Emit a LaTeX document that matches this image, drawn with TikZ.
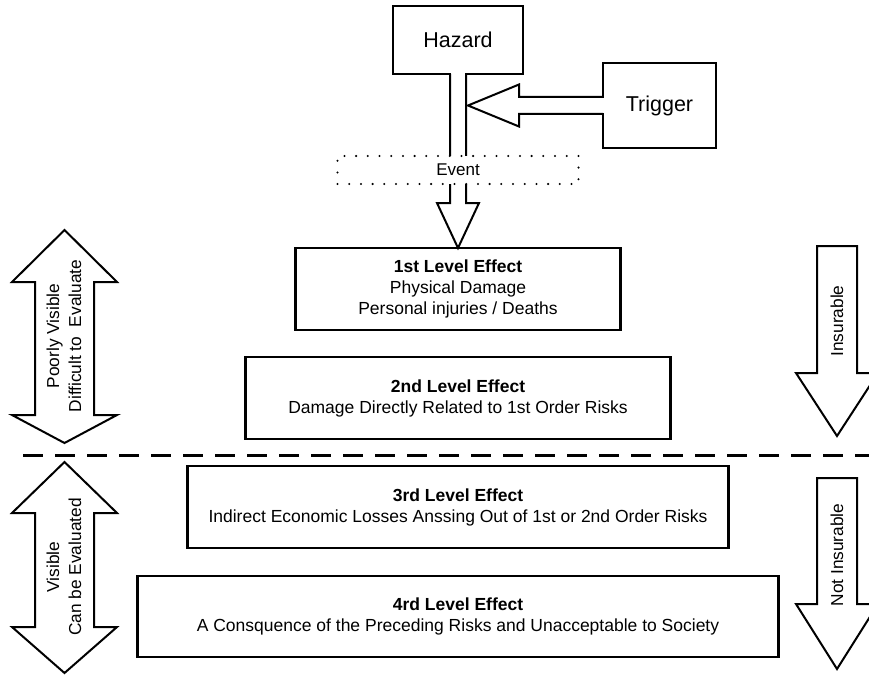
\documentclass[tikz,border=0pt]{standalone}
\usepackage{fontspec}
\setmainfont{Liberation Sans}
\usetikzlibrary{calc}
\begin{document}
\begin{tikzpicture}[x=1pt,y=-1pt,
  every node/.style={inner sep=0pt, outer sep=0pt},
  levelbox/.style={draw, line width=2.4pt, fill=white, align=center,
    font=\fontsize{17.5}{21}\selectfont},
  sourcebox/.style={draw, line width=2.3pt, fill=white,
    font=\fontsize{21.5}{26}\selectfont},
  eventbox/.style={draw, fill=white, line width=2.3pt, line cap=round,
    dash pattern=on 0pt off 11.7pt, font=\fontsize{17}{20}\selectfont},
  blockarrow/.style={line width=2pt, line join=miter},
  sidelabel/.style={rotate=90, align=center, font=\fontsize{17.3}{22}\selectfont},
  divider/.style={line width=3pt, dash pattern=on 20pt off 12pt}
]
\useasboundingbox (0,0) rectangle (869,674);

% sources
\node[sourcebox, minimum width=130pt, minimum height=68pt] (haz) at (458,40) {Hazard};
\node[sourcebox, minimum width=113pt, minimum height=85pt] (tr) at (659.5,105.5) {Trigger};

% effect levels
\node[levelbox, minimum width=325pt, minimum height=82pt] (l1) at (458,289)
  {\textbf{1st Level Effect}\\Physical Damage\\Personal injuries / Deaths};
\node[levelbox, minimum width=425pt, minimum height=82pt] (l2) at (458,398)
  {\textbf{2nd Level Effect}\\Damage Directly Related to 1st Order Risks};
\node[levelbox, minimum width=541pt, minimum height=82pt] (l3) at (458,507)
  {\textbf{3rd Level Effect}\\Indirect Economic Losses Anssing Out of 1st or 2nd Order Risks};
\node[levelbox, minimum width=641pt, minimum height=81pt] (l4) at (458,616.5)
  {\textbf{4rd Level Effect}\\A Consquence of the Preceding Risks and Unacceptable to Society};

% hazard -> first level block arrow, open into the hazard box
\coordinate (hs) at (haz.south);
\fill[white] ($(hs)+(-7,-3)$) rectangle ($(hs)+(7,129)$);
\draw[blockarrow] ($(hs)+(-8,0)$) -- ($(hs)+(-8,129)$) -- ($(hs)+(-21,129)$)
  -- (l1.north) -- ($(hs)+(21,129)$) -- ($(hs)+(8,129)$) -- ($(hs)+(8,0)$);

% trigger -> hazard shaft block arrow
\coordinate (shaftR) at ($(hs)+(10,0)$);
\coordinate (ttip) at (shaftR |- tr.west);
\fill[white] ($(tr.west)+(3,-7.5)$) rectangle ($(ttip)+(50,7.5)$);
\draw[blockarrow] ($(tr.west)+(0,-8.5)$) -- ($(tr.west)+(-84,-8.5)$) -- ($(tr.west)+(-84,-21)$)
  -- (ttip) -- ($(tr.west)+(-84,21)$) -- ($(tr.west)+(-84,8.5)$) -- ($(tr.west)+(0,8.5)$);

% event band
\node[eventbox, minimum width=241pt, minimum height=28pt] (ev) at (458,170) {Event};

% divider
\coordinate (dl) at (23,455);
\coordinate (dr) at (869,455);
\draw[divider] (dl) -- (dr);

% visibility double arrows
\draw[blockarrow] (64.5,230) -- (117,282) -- (94,282) -- (94,415) -- (117,415) -- (64.5,443)
  -- (12,415) -- (35,415) -- (35,282) -- (12,282) -- cycle;
\draw[blockarrow] (64.5,462) -- (117,513) -- (94,513) -- (94,627) -- (117,627) -- (64.5,673)
  -- (12,627) -- (35,627) -- (35,513) -- (12,513) -- cycle;
\node[sidelabel] (vis1) at (64,336) {Poorly Visible\\Difficult to\ \ Evaluate};
\node[sidelabel] (vis2) at (64,567) {Visible\\Can be Evaluated};

% insurability arrows
\draw[blockarrow] (817,246) -- (857,246) -- (857,373) -- (878,373) -- (837,436)
  -- (796,373) -- (817,373) -- cycle;
\draw[blockarrow] (817,478) -- (857,478) -- (857,604) -- (878,604) -- (837,669)
  -- (796,604) -- (817,604) -- cycle;
\node[sidelabel] (ins1) at (837,321) {Insurable};
\node[sidelabel] (ins2) at (837,555) {Not Insurable};
\end{tikzpicture}
\end{document}
